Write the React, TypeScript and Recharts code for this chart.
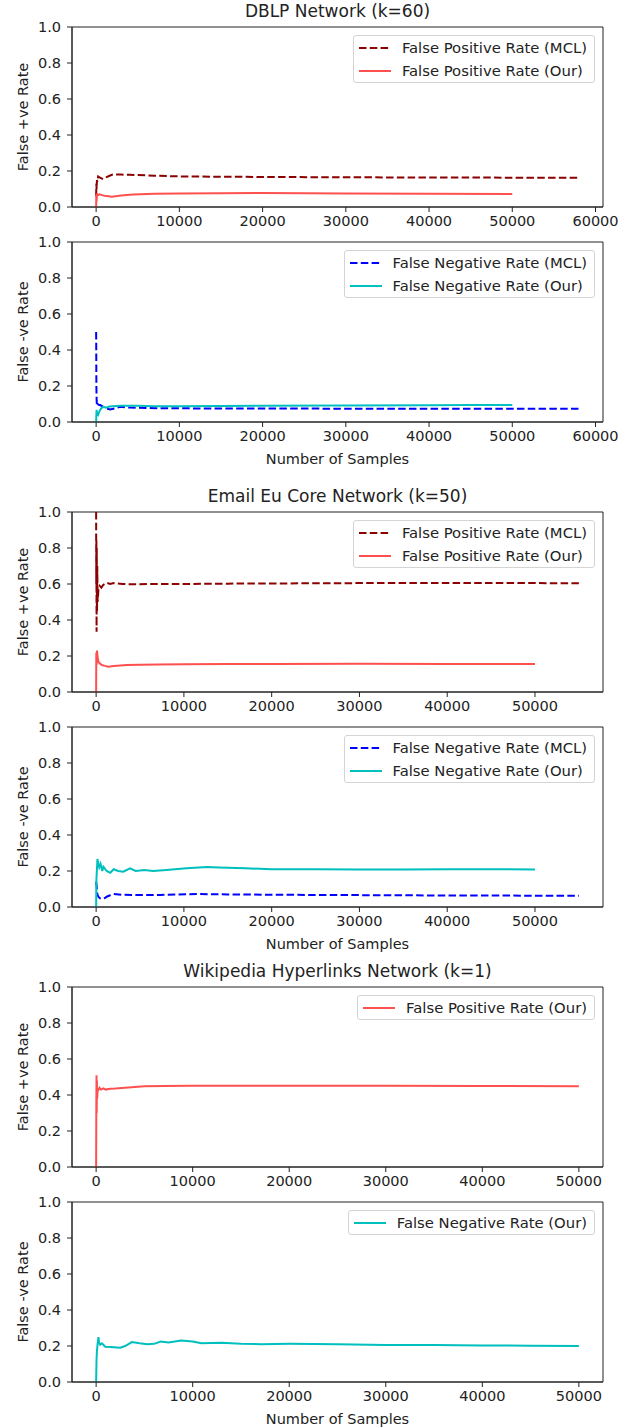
import React from 'react'
import { LineChart, Line, XAxis, YAxis, Legend, ReferenceArea } from 'recharts'

const FONT = '"DejaVu Sans", "Liberation Sans", sans-serif'
const TEXT = '#222'

// tick labels
const yTicks = [0, 0.2, 0.4, 0.6, 0.8, 1.0]
const xTicks60k = [0, 10000, 20000, 30000, 40000, 50000, 60000]
const xTicks50k = [0, 10000, 20000, 30000, 40000, 50000]

// DBLP Network (k=60)
const dblpFprMclX = [0, 30, 60, 100, 150, 240, 400, 600, 840, 1200, 1680, 2000, 3000, 4000, 5000, 7000, 10000, 15000, 20000, 30000, 40000, 50000, 58000]
const dblpFprMclY = [0.06, 0.13, 0.1, 0.15, 0.14, 0.17, 0.165, 0.16, 0.155, 0.165, 0.175, 0.18, 0.18, 0.179, 0.178, 0.174, 0.17, 0.168, 0.167, 0.165, 0.164, 0.163, 0.163]
const dblpFprOurX = [0, 20, 50, 100, 200, 400, 700, 1000, 1500, 1900, 3000, 4450, 7000, 10000, 15000, 19700, 25000, 30000, 40000, 50000]
const dblpFprOurY = [0, 0.07, 0.03, 0.075, 0.065, 0.07, 0.066, 0.063, 0.06, 0.057, 0.064, 0.07, 0.073, 0.075, 0.077, 0.078, 0.076, 0.075, 0.073, 0.072]
const dblpFnrMclX = [0, 10, 30, 60, 100, 200, 300, 480, 800, 1200, 1680, 2200, 2900, 4000, 6000, 7700, 10000, 15000, 20000, 30000, 40000, 50000, 58000]
const dblpFnrMclY = [0.5, 0.45, 0.2, 0.12, 0.09, 0.1, 0.095, 0.094, 0.085, 0.075, 0.07, 0.075, 0.085, 0.08, 0.078, 0.076, 0.076, 0.075, 0.075, 0.074, 0.074, 0.073, 0.073]
const dblpFnrOurX = [0, 50, 100, 240, 400, 600, 840, 1200, 1600, 2000, 3000, 5000, 7000, 10000, 15000, 20000, 30000, 40000, 45000, 50000]
const dblpFnrOurY = [0, 0.067, 0.05, 0.04, 0.06, 0.075, 0.085, 0.08, 0.086, 0.088, 0.09, 0.09, 0.087, 0.088, 0.089, 0.09, 0.091, 0.093, 0.094, 0.094]

// Email Eu Core Network (k=50)
const emailFprMclX = [0, 15, 30, 50, 70, 100, 130, 170, 260, 400, 600, 800, 1200, 1600, 2000, 3000, 4000, 6000, 10000, 15000, 20000, 30000, 40000, 50000, 55000]
const emailFprMclY = [1.0, 0.6, 0.85, 0.335, 0.8, 0.45, 0.7, 0.5, 0.567, 0.59, 0.58, 0.595, 0.607, 0.6, 0.605, 0.6, 0.598, 0.6, 0.6, 0.602, 0.603, 0.605, 0.606, 0.605, 0.604]
const emailFprOurX = [0, 20, 50, 100, 150, 260, 400, 650, 1000, 1400, 2000, 3500, 5000, 7000, 10000, 15000, 20000, 30000, 40000, 50000]
const emailFprOurY = [0, 0.22, 0.15, 0.23, 0.2, 0.168, 0.16, 0.15, 0.145, 0.141, 0.145, 0.15, 0.152, 0.153, 0.154, 0.155, 0.156, 0.157, 0.156, 0.155]
const emailFnrMclX = [0, 50, 150, 300, 450, 700, 1000, 1200, 1600, 2000, 3000, 5000, 7300, 11800, 15000, 20000, 30000, 40000, 50000, 55000]
const emailFnrMclY = [0.14, 0.12, 0.067, 0.055, 0.048, 0.045, 0.05, 0.057, 0.065, 0.072, 0.068, 0.066, 0.067, 0.072, 0.07, 0.068, 0.066, 0.064, 0.063, 0.062]
const emailFnrOurX = [0, 30, 80, 150, 250, 350, 500, 700, 830, 1200, 1600, 2000, 2500, 3100, 3860, 4500, 5500, 6500, 8000, 10300, 12600, 14000, 17000, 20000, 25000, 30000, 35000, 40000, 45000, 50000]
const emailFnrOurY = [0, 0.15, 0.2, 0.267, 0.24, 0.22, 0.24, 0.2, 0.224, 0.2, 0.19, 0.21, 0.2, 0.196, 0.215, 0.2, 0.205, 0.2, 0.205, 0.215, 0.222, 0.22, 0.215, 0.21, 0.21, 0.209, 0.208, 0.21, 0.21, 0.209]

// Wikipedia Hyperlinks Network (k=1)
const wikiFprOurX = [0, 20, 40, 60, 80, 100, 150, 350, 500, 750, 1000, 1450, 2000, 3000, 4000, 5000, 7000, 10000, 15000, 20000, 30000, 40000, 50000]
const wikiFprOurY = [0, 0.35, 0.51, 0.3, 0.48, 0.38, 0.42, 0.44, 0.43, 0.437, 0.43, 0.435, 0.436, 0.44, 0.445, 0.448, 0.45, 0.452, 0.452, 0.452, 0.451, 0.45, 0.449]
const wikiFnrOurX = [0, 40, 80, 150, 240, 300, 420, 600, 940, 1500, 2500, 3000, 3700, 4500, 5300, 6000, 6700, 7500, 8800, 10000, 10900, 13000, 15000, 17100, 20000, 25000, 30000, 35000, 40000, 45000, 50000]
const wikiFnrOurY = [0, 0.12, 0.17, 0.21, 0.25, 0.22, 0.207, 0.215, 0.196, 0.195, 0.19, 0.2, 0.222, 0.215, 0.21, 0.212, 0.225, 0.22, 0.23, 0.225, 0.215, 0.218, 0.212, 0.21, 0.212, 0.21, 0.206, 0.205, 0.203, 0.202, 0.2]

const DARKRED = '#8b0000'
const RED = '#ff5050'
const BLUE = '#0000ff'
const CYAN = '#00bfbf'
const DASH = '7.5 3.3'

const toPoints = (xs, ys) => xs.map((x, i) => ({ x, y: ys[i] }))

const PLOT_W = 531
const PLOT_H = 180
const M_TOP = 14
const M_LEFT = 72
const M_RIGHT = 36

const LegendBox = ({ items }) => (
  <div
    style={{
      background: 'rgba(255,255,255,0.8)',
      border: '1px solid #d4d4d4',
      borderRadius: 3,
      padding: '0 7px 0 5px',
      fontFamily: FONT,
      fontSize: 14.8,
      color: TEXT,
    }}
  >
    {items.map((s) => (
      <div key={s.name} style={{ display: 'flex', alignItems: 'center', height: 23, whiteSpace: 'nowrap' }}>
        <svg width={32} height={4} style={{ marginRight: 11 }}>
          <line x1={0} y1={2} x2={32} y2={2} stroke={s.color} strokeWidth={2} strokeDasharray={s.dashed ? DASH : undefined} />
        </svg>
        {s.name}
      </div>
    ))}
  </div>
)

const Panel = ({ top, domain, ticks, series, yLabel, xLabel }) => {
  const axisH = xLabel ? 46 : 30
  const height = M_TOP + PLOT_H + axisH
  return (
    <div style={{ position: 'absolute', top: top - M_TOP, left: 0 }}>
      <LineChart width={639} height={height} margin={{ top: M_TOP, right: M_RIGHT, bottom: 0, left: 0 }}>
        <ReferenceArea x1={domain[0]} x2={domain[1]} y1={0} y2={1} fill="none" stroke={TEXT} strokeWidth={1} />
        <XAxis
          dataKey="x"
          type="number"
          domain={domain}
          allowDataOverflow
          ticks={ticks}
          interval={0}
          height={axisH}
          tickSize={5}
          tickMargin={4}
          axisLine={{ stroke: TEXT }}
          tickLine={{ stroke: TEXT }}
          tick={{ fontSize: 14.5, fill: TEXT, fontFamily: FONT }}
          label={
            xLabel
              ? () => (
                  <text x={M_LEFT + PLOT_W / 2} y={M_TOP + PLOT_H + 37} textAnchor="middle" dominantBaseline="central" fontSize={14.5} fill={TEXT} fontFamily={FONT}>
                    {xLabel}
                  </text>
                )
              : undefined
          }
        />
        <YAxis
          type="number"
          domain={[0, 1]}
          ticks={yTicks}
          interval={0}
          width={M_LEFT}
          tickSize={5}
          tickMargin={6}
          tickFormatter={(v) => v.toFixed(1)}
          axisLine={{ stroke: TEXT }}
          tickLine={{ stroke: TEXT }}
          tick={{ fontSize: 14.5, fill: TEXT, fontFamily: FONT }}
          label={() => {
            const cy = M_TOP + PLOT_H / 2
            return (
              <text x={23} y={cy} transform={`rotate(-90, 23, ${cy})`} textAnchor="middle" dominantBaseline="central" fontSize={14.5} fill={TEXT} fontFamily={FONT}>
                {yLabel}
              </text>
            )
          }}
        />
        <Legend
          layout="vertical"
          align="center"
          verticalAlign="middle"
          wrapperStyle={{ top: M_TOP + 8, right: M_RIGHT + 8, left: 'auto', width: 'auto' }}
          content={() => <LegendBox items={series} />}
        />
        {series.map((s) => (
          <Line
            key={s.name}
            data={toPoints(s.xs, s.ys)}
            dataKey="y"
            name={s.name}
            type="linear"
            stroke={s.color}
            strokeWidth={2}
            strokeDasharray={s.dashed ? DASH : undefined}
            dot={false}
            activeDot={false}
            isAnimationActive={false}
          />
        ))}
      </LineChart>
    </div>
  )
}

const Title = ({ top, text }) => (
  <div
    style={{
      position: 'absolute',
      top: top - 28,
      left: M_LEFT,
      width: PLOT_W,
      height: 24,
      lineHeight: '24px',
      textAlign: 'center',
      fontFamily: FONT,
      fontSize: 17,
      color: TEXT,
    }}
  >
    {text}
  </div>
)

const App = () => {
  return (
    <div style={{ position: 'absolute', top: 0, left: 0, width: 639, height: 1427, background: '#fff' }}>
      <Panel
        top={27}
        domain={[-2900, 60900]}
        ticks={xTicks60k}
        yLabel="False +ve Rate"
        series={[
          { name: 'False Positive Rate (MCL)', xs: dblpFprMclX, ys: dblpFprMclY, color: DARKRED, dashed: true },
          { name: 'False Positive Rate (Our)', xs: dblpFprOurX, ys: dblpFprOurY, color: RED },
        ]}
      />
      <Panel
        top={242}
        domain={[-2900, 60900]}
        ticks={xTicks60k}
        yLabel="False -ve Rate"
        xLabel="Number of Samples"
        series={[
          { name: 'False Negative Rate (MCL)', xs: dblpFnrMclX, ys: dblpFnrMclY, color: BLUE, dashed: true },
          { name: 'False Negative Rate (Our)', xs: dblpFnrOurX, ys: dblpFnrOurY, color: CYAN },
        ]}
      />

      <Panel
        top={512}
        domain={[-2750, 57750]}
        ticks={xTicks50k}
        yLabel="False +ve Rate"
        series={[
          { name: 'False Positive Rate (MCL)', xs: emailFprMclX, ys: emailFprMclY, color: DARKRED, dashed: true },
          { name: 'False Positive Rate (Our)', xs: emailFprOurX, ys: emailFprOurY, color: RED },
        ]}
      />
      <Panel
        top={727}
        domain={[-2750, 57750]}
        ticks={xTicks50k}
        yLabel="False -ve Rate"
        xLabel="Number of Samples"
        series={[
          { name: 'False Negative Rate (MCL)', xs: emailFnrMclX, ys: emailFnrMclY, color: BLUE, dashed: true },
          { name: 'False Negative Rate (Our)', xs: emailFnrOurX, ys: emailFnrOurY, color: CYAN },
        ]}
      />

      <Panel
        top={987}
        domain={[-2500, 52500]}
        ticks={xTicks50k}
        yLabel="False +ve Rate"
        series={[{ name: 'False Positive Rate (Our)', xs: wikiFprOurX, ys: wikiFprOurY, color: RED }]}
      />
      <Panel
        top={1202}
        domain={[-2500, 52500]}
        ticks={xTicks50k}
        yLabel="False -ve Rate"
        xLabel="Number of Samples"
        series={[{ name: 'False Negative Rate (Our)', xs: wikiFnrOurX, ys: wikiFnrOurY, color: CYAN }]}
      />

      <Title top={27} text="DBLP Network (k=60)" />
      <Title top={512} text="Email Eu Core Network (k=50)" />
      <Title top={987} text="Wikipedia Hyperlinks Network (k=1)" />
    </div>
  )
}

export default App
